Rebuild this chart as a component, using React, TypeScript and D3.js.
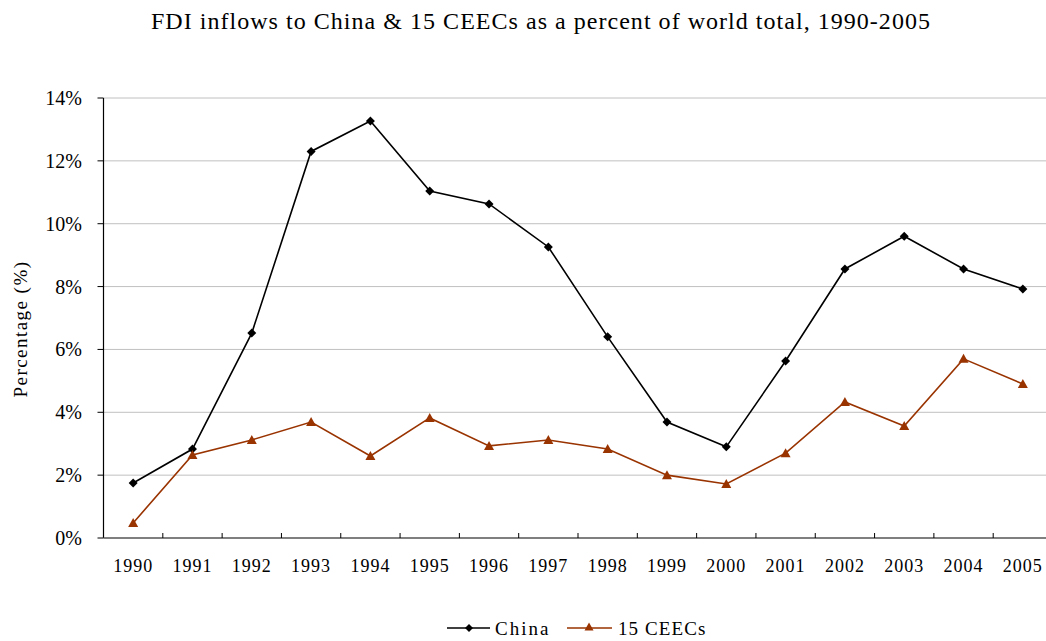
import React from "react";
import * as d3 from "d3";

const years = ["1990","1991","1992","1993","1994","1995","1996","1997","1998","1999","2000","2001","2002","2003","2004","2005"];
const china = [1.75,2.83,6.52,12.3,13.27,11.04,10.63,9.26,6.4,3.69,2.9,5.63,8.56,9.6,8.56,7.92];
const ceecs = [0.48,2.64,3.12,3.69,2.61,3.82,2.93,3.12,2.83,2.0,1.72,2.7,4.33,3.56,5.7,4.9];
const yTicks = [0,2,4,6,8,10,12,14];

const W = 1046, H = 641;
const left = 103.5, right = 1052.5, top = 98, bottom = 538;
const font = "Liberation Serif, Times New Roman, DejaVu Serif, serif";
const brown = "#993300";

export default function App() {
  const x = d3.scaleBand<string>().domain(years).range([left, right]).paddingInner(0).paddingOuter(0);
  const y = d3.scaleLinear().domain([0, 14]).range([bottom, top]);
  const cx = (d: string) => (x(d) as number) + x.bandwidth() / 2;
  const line = d3.line<number>().x((_, i) => cx(years[i])).y(v => y(v));
  const diamond = (px: number, py: number, r = 4.5) => `M${px},${py - r}L${px + r},${py}L${px},${py + r}L${px - r},${py}Z`;
  const tri = (px: number, py: number, r = 5) => `M${px},${py - r}L${px + r},${py + r * 0.8}L${px - r},${py + r * 0.8}Z`;
  const ts = { fontFamily: font } as React.CSSProperties;
  return (
    <svg width={W} height={H} style={{ position: "fixed", left: 0, top: 0, fontFamily: font }}>
      <rect width={W} height={H} fill="#fff" />
      <text x={541} y={29} textAnchor="middle" fontSize={24} fill="#000" style={{ ...ts, letterSpacing: "1.03px" }}>FDI inflows to China &amp; 15 CEECs as a percent of world total, 1990-2005</text>
      {yTicks.filter(t => t > 0).map(t => (
        <line key={t} x1={left} x2={W} y1={y(t)} y2={y(t)} stroke="#c0c0c0" strokeWidth={1} />
      ))}
      {yTicks.map(t => (
        <g key={"yt" + t}>
          <line x1={left - 6} x2={left} y1={y(t)} y2={y(t)} stroke="#000" />
          <text x={82} y={y(t) + 7} textAnchor="end" fontSize={20} fill="#000" style={ts}>{t}%</text>
        </g>
      ))}
      <line x1={left} x2={left} y1={top} y2={bottom} stroke="#000" strokeWidth={1.2} />
      <line x1={left} x2={W} y1={bottom} y2={bottom} stroke="#555" strokeWidth={1.5} />
      {years.map((yr, i) => (
        <g key={yr}>
          {i > 0 && <line x1={x(yr) as number} x2={x(yr) as number} y1={bottom} y2={bottom - 5} stroke="#000" />}
          <text x={cx(yr)} y={bottom + 34} textAnchor="middle" fontSize={18} fill="#000" style={{ ...ts, letterSpacing: "1px" }}>{yr}</text>
        </g>
      ))}
      <text transform={`translate(27,329) rotate(-90)`} textAnchor="middle" fontSize={19} fill="#000" style={{ ...ts, letterSpacing: "1.45px" }}>Percentage (%)</text>
      <path d={line(china) || ""} fill="none" stroke="#000" strokeWidth={1.6} />
      {china.map((v, i) => <path key={"c" + i} d={diamond(cx(years[i]), y(v))} fill="#000" />)}
      <path d={line(ceecs) || ""} fill="none" stroke={brown} strokeWidth={1.6} />
      {ceecs.map((v, i) => <path key={"e" + i} d={tri(cx(years[i]), y(v))} fill={brown} />)}
      <g>
        <line x1={447} x2={490} y1={628} y2={628} stroke="#000" strokeWidth={1.6} />
        <path d={diamond(469, 628, 4)} fill="#000" />
        <text x={495} y={635} fontSize={19} fill="#000" style={{ ...ts, letterSpacing: "2px" }}>China</text>
        <line x1={567} x2={612} y1={628} y2={628} stroke={brown} strokeWidth={1.6} />
        <path d={tri(589, 627, 4.5)} fill={brown} />
        <text x={618} y={635} fontSize={19} fill="#000" style={{ ...ts, letterSpacing: "1.1px" }}>15 CEECs</text>
      </g>
    </svg>
  );
}
